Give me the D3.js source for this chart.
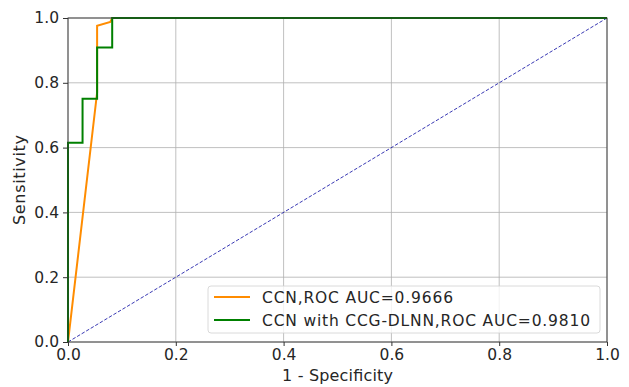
<!DOCTYPE html>
<html>
<head>
<meta charset="utf-8">
<script src="https://cdn.jsdelivr.net/npm/d3@7"></script>
<style>
  body { margin: 0; background: #fff; }
  text { font-family: "DejaVu Sans", sans-serif; fill: #262626; }
</style>
</head>
<body>
<div id="chart"></div>
<script>
// ROC curves (1 - specificity, sensitivity)
const ccnFpr = [0, 0.054, 0.054, 0.0785, 0.082, 1];
const ccnTpr = [0, 0.77, 0.976, 0.988, 1, 1];
const dlnnFpr = [0, 0, 0.027, 0.027, 0.054, 0.054, 0.082, 0.082, 1];
const dlnnTpr = [0, 0.615, 0.615, 0.751, 0.751, 0.909, 0.909, 1, 1];
const chanceLine = [0, 1];
const ticks = [0, 0.2, 0.4, 0.6, 0.8, 1.0];
const legendLabels = ["CCN,ROC AUC=0.9666", "CCN with CCG-DLNN,ROC AUC=0.9810"];
const seriesColors = ["darkorange", "green"];

let width = 629;
let height = 387;
let margin = { top: 18, right: 22, bottom: 45, left: 68 };
let w = width - margin.left - margin.right;
let h = height - margin.top - margin.bottom;

let svg = d3.select("#chart").append("svg").attr("width", width).attr("height", height);
let g = svg.append("g").attr("transform", "translate(" + margin.left + "," + margin.top + ")");

let x = d3.scaleLinear().domain([0, 1]).range([0, w]);
let y = d3.scaleLinear().domain([0, 1]).range([h, 0]);

// grid
g.append("g").selectAll("line").data(ticks).enter().append("line")
  .attr("x1", d => x(d)).attr("x2", d => x(d)).attr("y1", 0).attr("y2", h)
  .attr("stroke", "#b0b0b0").attr("stroke-width", 0.8);
g.append("g").selectAll("line").data(ticks).enter().append("line")
  .attr("x1", 0).attr("x2", w).attr("y1", d => y(d)).attr("y2", d => y(d))
  .attr("stroke", "#b0b0b0").attr("stroke-width", 0.8);

// chance diagonal
let line = d3.line().x(d => x(d[0])).y(d => y(d[1]));
g.append("path").datum(chanceLine.map(v => [v, v])).attr("d", line)
  .attr("fill", "none").attr("stroke", "#2222aa").attr("stroke-width", 0.9).attr("stroke-dasharray", "3.5,1.8");

// curves
g.append("path").datum(ccnFpr.map((v, i) => [v, ccnTpr[i]])).attr("d", line)
  .attr("fill", "none").attr("stroke", seriesColors[0]).attr("stroke-width", 2);
g.append("path").datum(dlnnFpr.map((v, i) => [v, dlnnTpr[i]])).attr("d", line)
  .attr("fill", "none").attr("stroke", seriesColors[1]).attr("stroke-width", 2);

// frame
g.append("rect").attr("width", w).attr("height", h).attr("fill", "none").attr("stroke", "#333").attr("stroke-width", 0.9);

// axes
let fmt = d3.format(".1f");
let xAxis = g.append("g").attr("transform", "translate(0," + h + ")")
  .call(d3.axisBottom(x).tickValues(ticks).tickFormat(fmt).tickSize(4).tickPadding(3));
let yAxis = g.append("g")
  .call(d3.axisLeft(y).tickValues(ticks).tickFormat(fmt).tickSize(5).tickPadding(4));
[xAxis, yAxis].forEach(a => {
  a.select(".domain").remove();
  a.selectAll("line").attr("stroke", "#333");
  a.selectAll("text").attr("font-size", 15.5).attr("fill", "#262626").attr("font-family", "DejaVu Sans");
});

svg.append("text").attr("x", margin.left + w / 2).attr("y", 381).attr("text-anchor", "middle")
  .attr("font-size", 16).attr("textLength", 111).text("1 - Specificity");
svg.append("text").attr("transform", "translate(25," + (margin.top + h / 2) + ") rotate(-90)")
  .attr("text-anchor", "middle").attr("font-size", 16).attr("textLength", 90).text("Sensitivity");

// legend
let lg = svg.append("g").attr("transform", "translate(208,286)");
lg.append("rect").attr("width", 392).attr("height", 47).attr("rx", 3)
  .attr("fill", "rgba(255,255,255,0.8)").attr("stroke", "#d0d0d0").attr("stroke-width", 0.8);
let legendWidths = [191, 328];
legendLabels.forEach((lab, i) => {
  let yy = 11 + i * 23;
  lg.append("line").attr("x1", 6).attr("x2", 42).attr("y1", yy).attr("y2", yy)
    .attr("stroke", seriesColors[i]).attr("stroke-width", 2);
  lg.append("text").attr("x", 54).attr("y", yy + 5.5).attr("font-size", 15.5)
    .attr("textLength", legendWidths[i]).text(lab);
});
</script>
</body>
</html>
